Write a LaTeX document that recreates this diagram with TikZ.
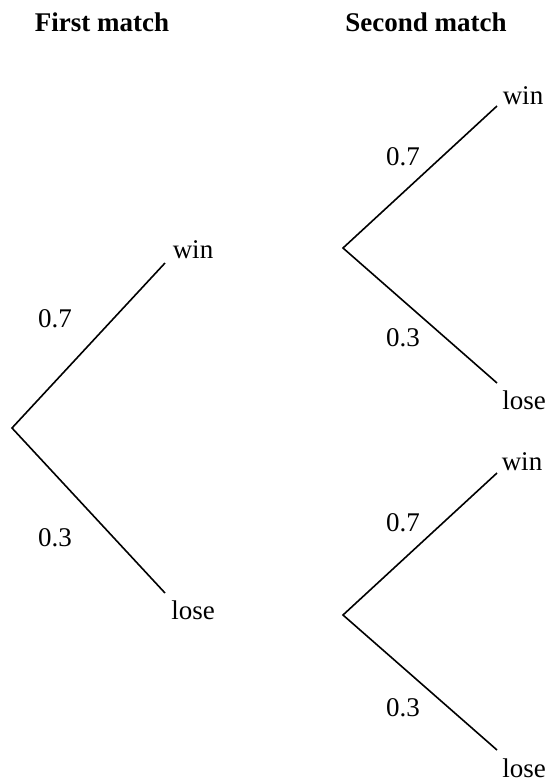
\documentclass[tikz,border=0pt]{standalone}
\usepackage{fontspec}
\setmainfont{Liberation Serif}
\begin{document}
\begin{tikzpicture}[x=0.5pt, y=-0.5pt, line width=0.8pt, every node/.style={font=\fontsize{13.5}{16}\selectfont, inner sep=1pt},
	head/.style={font=\fontsize{13.5}{16}\selectfont\bfseries}]
	% 1. 画布范围
	\useasboundingbox (0,0) rectangle (550,783);
	
	% 2. 标题
	\node[head] (h1) at (102,22) {First match};
	\node[head] (h2) at (426,22) {Second match};
	
	% 3. 分叉点与端点
	\coordinate (r0) at (12,428);
	\coordinate (a1) at (165,263);
	\coordinate (a2) at (165,593);
	\coordinate (rb) at (343,248);
	\coordinate (b1) at (497,106);
	\coordinate (b2) at (497,383);
	\coordinate (rc) at (343,615);
	\coordinate (c1) at (497,473);
	\coordinate (c2) at (497,750);
	
	% 4. 树枝
	\draw (a1) -- (r0) -- (a2);
	\draw (b1) -- (rb) -- (b2);
	\draw (c1) -- (rc) -- (c2);
	
	% 5. 结果与概率标注
	\node (wa) at (193,250) {win};
	\node (la) at (193,610) {lose};
	\node (pa1) at (55,319) {0.7};
	\node (pa2) at (55,538) {0.3};
	\node (wb) at (523,96) {win};
	\node (lb) at (524,400) {lose};
	\node (pb1) at (403,157) {0.7};
	\node (pb2) at (403,338) {0.3};
	\node (wc) at (522,462) {win};
	\node (lc) at (524,768) {lose};
	\node (pc1) at (403,523) {0.7};
	\node (pc2) at (403,708) {0.3};
\end{tikzpicture}
\end{document}
